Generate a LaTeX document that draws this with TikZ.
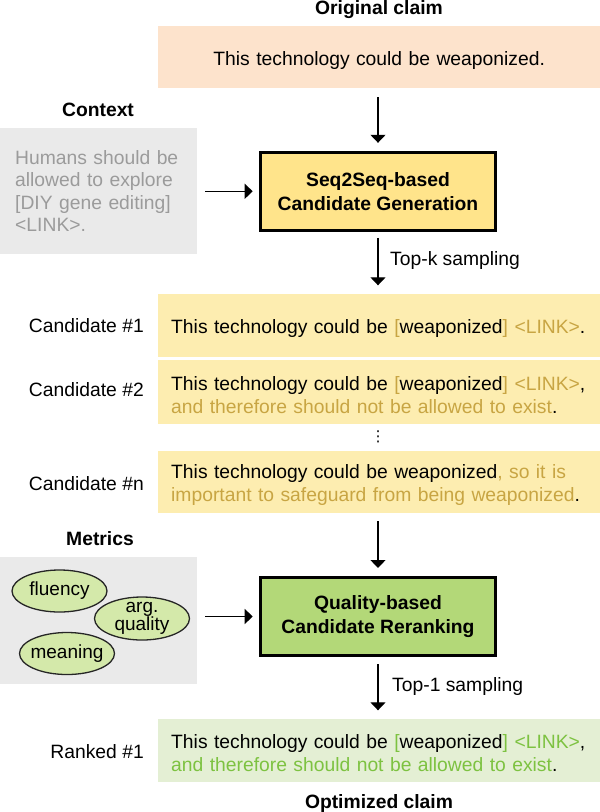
\documentclass[tikz,border=0pt]{standalone}
\usepackage{fontspec}
\setmainfont{Liberation Sans}
\newfontfamily\dejavu{DejaVu Sans}
\usetikzlibrary{arrows.meta,shapes.geometric}
\definecolor{origfill}{HTML}{FDE3CC}
\definecolor{ctxfill}{HTML}{EAEAEA}
\definecolor{ctxtext}{HTML}{9B9B9B}
\definecolor{genfill}{HTML}{FFE48B}
\definecolor{candfill}{HTML}{FDEDB0}
\definecolor{goldacc}{HTML}{C8A543}
\definecolor{rerankfill}{HTML}{B3D878}
\definecolor{ellfill}{HTML}{D4E9AA}
\definecolor{rankfill}{HTML}{E4EFD4}
\definecolor{greenacc}{HTML}{7DC241}
\newcommand\tp{\rule{0pt}{20pt}}
\newcommand\gd[1]{\textcolor{goldacc}{#1}}
\newcommand\gr[1]{\textcolor{greenacc}{#1}}
\newcommand\bodyfont{\fontsize{19.3pt}{23pt}\selectfont}
\begin{document}
\begin{tikzpicture}[x=1pt,y=-1pt,
  txt/.style={font=\bodyfont, inner sep=0pt},
  ttl/.style={font=\bodyfont\bfseries, inner sep=0pt},
  arr/.style={line width=1.3pt, -{Triangle[width=15pt,length=8pt]}},
  claimbox/.style={anchor=north west, minimum width=442pt, minimum height=#1, text width=416pt, align=left, inner xsep=0pt, inner ysep=0pt, font=\bodyfont},
  mainbox/.style={draw=black, line width=2.7pt, minimum width=235.3pt, minimum height=78.3pt, inner sep=0pt, align=center, font=\fontsize{19.3pt}{24pt}\selectfont\bfseries},
  greybox/.style={fill=ctxfill, anchor=north west, minimum width=197pt, inner ysep=0pt},
  metric/.style={ellipse, draw=black!85, line width=1.3pt, fill=ellfill, minimum width=95pt, minimum height=42pt, inner xsep=-4pt, inner ysep=-7pt, align=center, font=\fontsize{19pt}{18.5pt}\selectfont}
]
\useasboundingbox (0,0) rectangle (600,812);

% titles
\node[ttl, anchor=base] (torig) at (379,14.8) {Original claim};
\node[ttl, anchor=base] (tctx) at (98,116) {Context};
\node[ttl, anchor=base] (tmet) at (100,545) {Metrics};
\node[ttl, anchor=base] (topt) at (379,808.5) {Optimized claim};

% original claim
\node[claimbox=62pt, fill=origfill, align=center] (orig) at (158,26) {\tp This technology could be weaponized.};

% context
\node[greybox, minimum height=126pt, text width=167pt, inner xsep=15pt, align=left, font=\fontsize{19.3pt}{22.5pt}\selectfont, text=ctxtext] (ctx) at (0,128)
  {Humans should be\\allowed to explore\\{[DIY} gene editing{]}\\<LINK>.};

% generation
\node[mainbox, fill=genfill] (gen) at (378,191.3) {Seq2Seq-based\\Candidate Generation};

% candidates
\node[claimbox=63.5pt, fill=candfill] (c1) at (158,293.3)
  {\tp This technology could be \gd{[}weaponized\gd{]} \gd{<LINK>}.};
\node[claimbox=63.3pt, fill=candfill] (c2) at (158,360)
  {\tp This technology could be \gd{[}weaponized\gd{]} \gd{<LINK>},\\\gd{and therefore should not be allowed to exist}.};
\node[font=\dejavu\fontsize{15pt}{15pt}\selectfont, inner sep=0pt] (dots) at (378,437) {⋮};
\node[claimbox=62pt, fill=candfill] (cn) at (158,451)
  {\tp This technology could be weaponized\gd{, so it is}\\\gd{important to safeguard from being weaponized}.};

\node[txt, anchor=base east] (l1) at (144,332.7) {Candidate \#1};
\node[txt, anchor=base east] (l2) at (144,396) {Candidate \#2};
\node[txt, anchor=base east] (ln) at (144,490) {Candidate \#n};

% metrics
\node[greybox, minimum height=127pt] (met) at (0,557) {};
\node[metric] (flu) at (59.5,591) {fluency};
\node[metric, minimum height=43pt] (argq) at (142,618.5) {arg.\\quality};
\node[metric] (mean) at (67,653.5) {meaning};

% reranking
\node[mainbox, fill=rerankfill] (rerank) at (378,616.5) {Quality-based\\Candidate Reranking};

% ranked
\node[claimbox=63pt, fill=rankfill] (rank) at (158,718.3)
  {\tp This technology could be \gr{[}weaponized\gr{]} \gr{<LINK>},\\\gr{and therefore should not be allowed to exist}.};
\node[txt, anchor=base east] (lr) at (144,758) {Ranked \#1};

% arrows
\draw[arr, shorten <=9pt, shorten >=8pt] (orig.south -| gen.north) -- (gen.north);
\draw[arr, shorten <=8pt, shorten >=6.3pt] (ctx.east |- gen.west) -- (gen.west);
\draw[arr, shorten <=6pt, shorten >=8pt] (gen.south) -- (gen.south |- c1.north);
\node[txt, anchor=base west] (topk) at (390,265.7) {Top-k sampling};
\draw[arr, shorten <=8pt, shorten >=8pt] (cn.south -| rerank.north) -- (rerank.north);
\draw[arr, shorten <=8pt, shorten >=6.3pt] (met.east |- rerank.west) -- (rerank.west);
\draw[arr, shorten <=7pt, shorten >=8pt] (rerank.south) -- (rerank.south |- rank.north);
\node[txt, anchor=base west] (top1) at (392,691.7) {Top-1 sampling};
\end{tikzpicture}
\end{document}
